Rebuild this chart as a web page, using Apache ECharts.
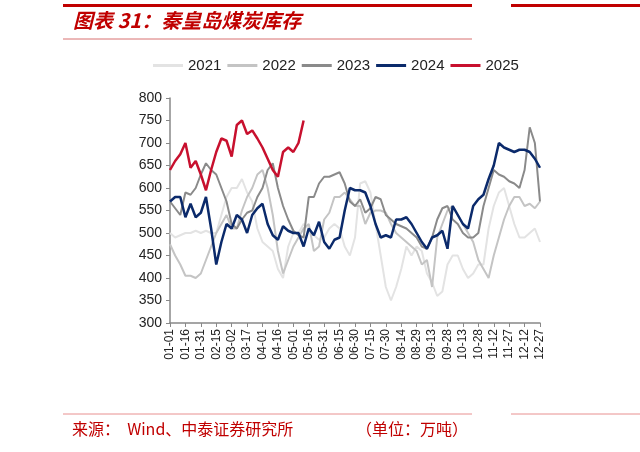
<!DOCTYPE html>
<html>
<head>
<meta charset="utf-8">
<script src="https://cdn.jsdelivr.net/npm/echarts@6/dist/echarts.min.js"></script>
<style>html,body{margin:0;padding:0;background:#fff}</style>
</head>
<body>
<div id="echarts" style="width:640px;height:452px"></div>
<script>
// 5日一个点，01-01 至 12-27
var categories = [];
(function(){
  var d = new Date(2021, 0, 1);
  for (var i = 0; i < 73; i++) {
    var m = d.getMonth() + 1, day = d.getDate();
    categories.push((m < 10 ? '0' : '') + m + '-' + (day < 10 ? '0' : '') + day);
    d.setDate(d.getDate() + 5);
  }
})();

var y2021 = [500,490,495,500,500,505,500,505,500,500,540,580,600,600,620,590,570,510,480,470,460,420,400,470,500,500,520,510,495,485,490,510,520,510,470,450,490,610,615,590,520,450,380,350,380,420,470,450,470,460,410,390,360,370,430,450,450,420,400,410,430,430,510,560,590,600,560,520,490,490,500,510,480];
var y2022 = [475,450,430,405,405,400,410,440,470,500,520,540,510,510,550,580,600,630,640,600,540,460,410,440,470,490,510,520,460,470,530,545,580,580,590,575,560,560,520,545,550,550,545,520,500,490,480,470,460,430,440,380,490,520,550,560,540,520,500,480,440,420,400,450,490,530,560,580,580,560,565,555,570];
var y2023 = [570,555,540,590,585,600,630,655,640,630,600,570,520,510,530,545,550,580,600,640,655,600,560,530,505,495,490,580,580,610,625,625,630,635,610,570,560,575,545,555,580,575,540,530,520,515,510,500,490,470,465,490,530,555,560,530,520,500,490,490,500,560,600,640,630,625,615,610,600,640,735,700,570];
var y2024 = [570,580,580,535,565,535,545,580,510,430,480,520,510,540,530,500,540,555,565,520,495,485,515,505,500,500,470,510,495,525,480,465,485,490,550,600,595,595,590,560,520,490,495,490,530,530,535,520,500,480,465,490,495,505,465,560,540,520,510,560,575,585,620,650,700,690,685,680,685,685,680,665,645];
var y2025 = [640,660,675,700,645,660,630,595,640,680,710,705,670,740,750,720,728,710,690,665,640,625,680,690,680,700,750];
var years = ['2021','2022','2023','2024','2025'];
var colors = ['#e3e3e3','#c4c4c4','#8a8a8a','#0b2a6b','#c8102e'];
var widths = [2, 2, 2, 2.5, 2.5];
var seriesData = [y2021, y2022, y2023, y2024, y2025];

var myChart = echarts.init(document.getElementById('echarts'));
var red = '#c00000';
myChart.setOption({
  animation: false,
  color: colors,
  textStyle: { fontFamily: 'Liberation Sans, Noto Sans CJK SC' },
  graphic: [
    { type: 'rect', shape: { x: 63, y: 4, width: 409, height: 3 }, style: { fill: red } },
    { type: 'rect', shape: { x: 511, y: 4, width: 129, height: 3 }, style: { fill: red } },
    { type: 'line', shape: { x1: 63, y1: 39, x2: 472, y2: 39 }, style: { stroke: '#d87070', lineWidth: 1 } },
    { type: 'text', left: 73, top: 10, style: { text: '图表 31：秦皇岛煤炭库存', fill: red, font: 'italic bold 20px "Noto Sans CJK SC"' } },
    { type: 'line', shape: { x1: 63, y1: 414, x2: 472, y2: 414 }, style: { stroke: '#e89090', lineWidth: 1 } },
    { type: 'line', shape: { x1: 511, y1: 414, x2: 640, y2: 414 }, style: { stroke: '#e89090', lineWidth: 1 } },
    { type: 'text', left: 72, top: 421, style: { text: '来源：  Wind、中泰证券研究所', fill: red, font: '16px "Noto Sans CJK SC"' } },
    { type: 'text', left: 356, top: 421, style: { text: '（单位：万吨）', fill: red, font: '16px "Noto Sans CJK SC"' } }
  ],
  legend: {
    top: 53, left: 148, itemWidth: 30, itemHeight: 3, itemGap: 6,
    icon: 'rect',
    textStyle: { fontSize: 15, color: '#222' },
    data: years
  },
  grid: { left: 170, right: 100, top: 98, bottom: 129 },
  xAxis: {
    type: 'category', data: categories, boundaryGap: false,
    axisLine: { lineStyle: { color: '#888', width: 1.5 } },
    axisTick: { interval: 2, length: 4, lineStyle: { color: '#888' } },
    axisLabel: { interval: 2, rotate: 90, fontSize: 12, color: '#222', margin: 6 }
  },
  yAxis: {
    type: 'value', min: 300, max: 800, interval: 50,
    splitLine: { show: false },
    axisLine: { show: true, lineStyle: { color: '#888', width: 1.5 } },
    axisTick: { show: true, length: 4, lineStyle: { color: '#888' } },
    axisLabel: { fontSize: 14, color: '#222', margin: 8 }
  },
  series: years.map(function (y, i) {
    return {
      name: y, type: 'line', data: seriesData[i], showSymbol: false, symbol: 'none',
      lineStyle: { width: widths[i], color: colors[i] }, z: i + 2
    };
  })
});
</script>
</body>
</html>
